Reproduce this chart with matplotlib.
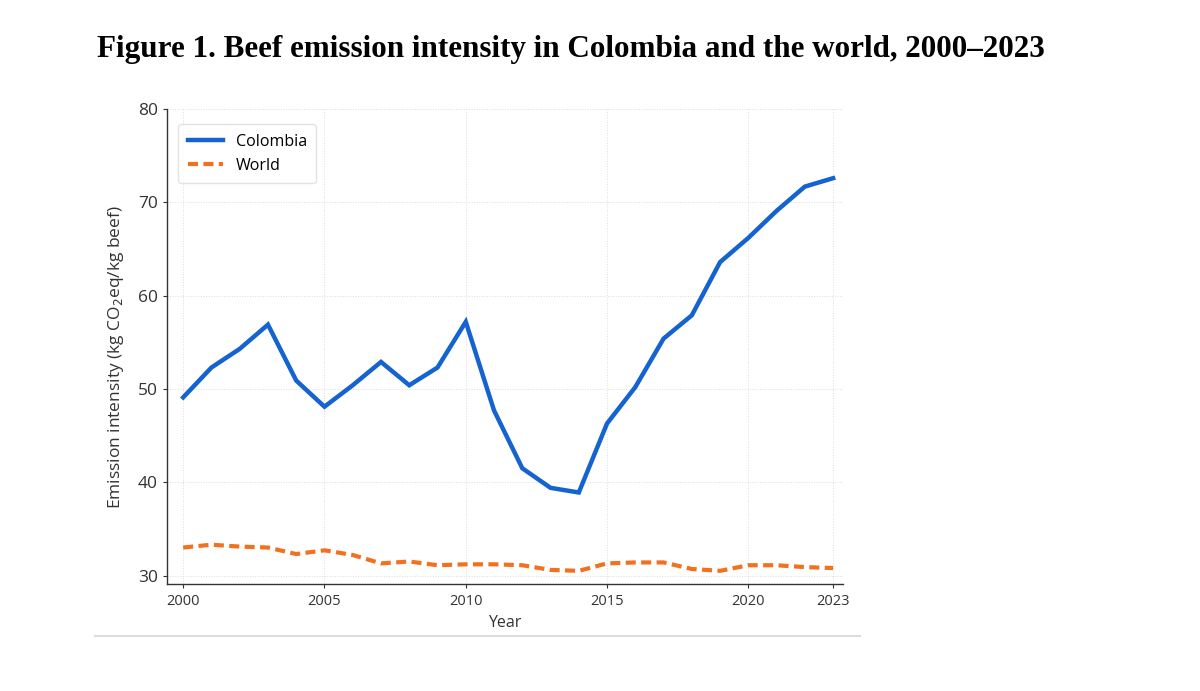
import matplotlib
matplotlib.use("Agg")
import matplotlib.pyplot as plt
from matplotlib.lines import Line2D

years = list(range(2000, 2024))
colombia = [49.1, 52.3, 54.3, 56.9, 50.9, 48.1, 50.4, 52.9, 50.4, 52.3, 57.2, 47.7,
            41.5, 39.4, 38.9, 46.3, 50.2, 55.4, 57.9, 63.6, 66.2, 69.1, 71.7, 72.6]
world = [33.0, 33.3, 33.1, 33.0, 32.3, 32.7, 32.2, 31.3, 31.5, 31.1, 31.2, 31.2,
         31.1, 30.6, 30.5, 31.3, 31.4, 31.4, 30.7, 30.5, 31.1, 31.1, 30.9, 30.8]
xticks = [2000, 2005, 2010, 2015, 2020, 2023]
yticks = [30, 40, 50, 60, 70, 80]

plt.rcParams['font.family'] = ['Open Sans', 'DejaVu Sans']

fig = plt.figure(figsize=(12, 6.91), dpi=100)
ax = fig.add_axes([0.139, 0.155, 0.5635, 0.687])

ax.plot(years, colombia, color='#1463d0', lw=3.2, label='Colombia', solid_joinstyle='miter')
ax.plot(years, world, color='#f3701f', lw=3.0, dashes=(2.4, 1.3), label='World')

ax.set_xlim(1999.42, 2023.35)
ax.set_ylim(29.1, 80)
ax.set_xticks(xticks)
ax.set_yticks(yticks)
ax.tick_params(axis='x', labelsize=10.5, colors='#333333', length=3, pad=4.5)
ax.tick_params(axis='y', labelsize=12.5, colors='#333333', length=3)
ax.grid(True, color='#dddddd', lw=0.7, ls=':')
for s in ['top', 'right']:
    ax.spines[s].set_visible(False)
for s in ['left', 'bottom']:
    ax.spines[s].set_color('#333333')
    ax.spines[s].set_linewidth(1.0)

ax.set_xlabel('Year', fontsize=11.5, color='#333333', labelpad=4)
ax.set_ylabel('Emission intensity (kg CO$_2$eq/kg beef)', fontsize=12.5, color='#333333')
ax.yaxis.set_label_coords(-0.06, 0.477)

leg = ax.legend(loc='upper left', fontsize=11.5, frameon=True, borderpad=0.6,
                handlelength=2.2, bbox_to_anchor=(0.005, 0.985))
leg.get_frame().set_edgecolor('#dddddd')

fig.text(0.081, 0.929, 'Figure 1. Beef emission intensity in Colombia and the world, 2000\u20132023',
         fontsize=22.4, fontweight='bold', family='Liberation Serif', va='center', ha='left')

fig.add_artist(Line2D([0.079, 0.717], [0.08, 0.08], color='#dcdcdc', lw=1.5))

fig.savefig('out.png', dpi=100)
